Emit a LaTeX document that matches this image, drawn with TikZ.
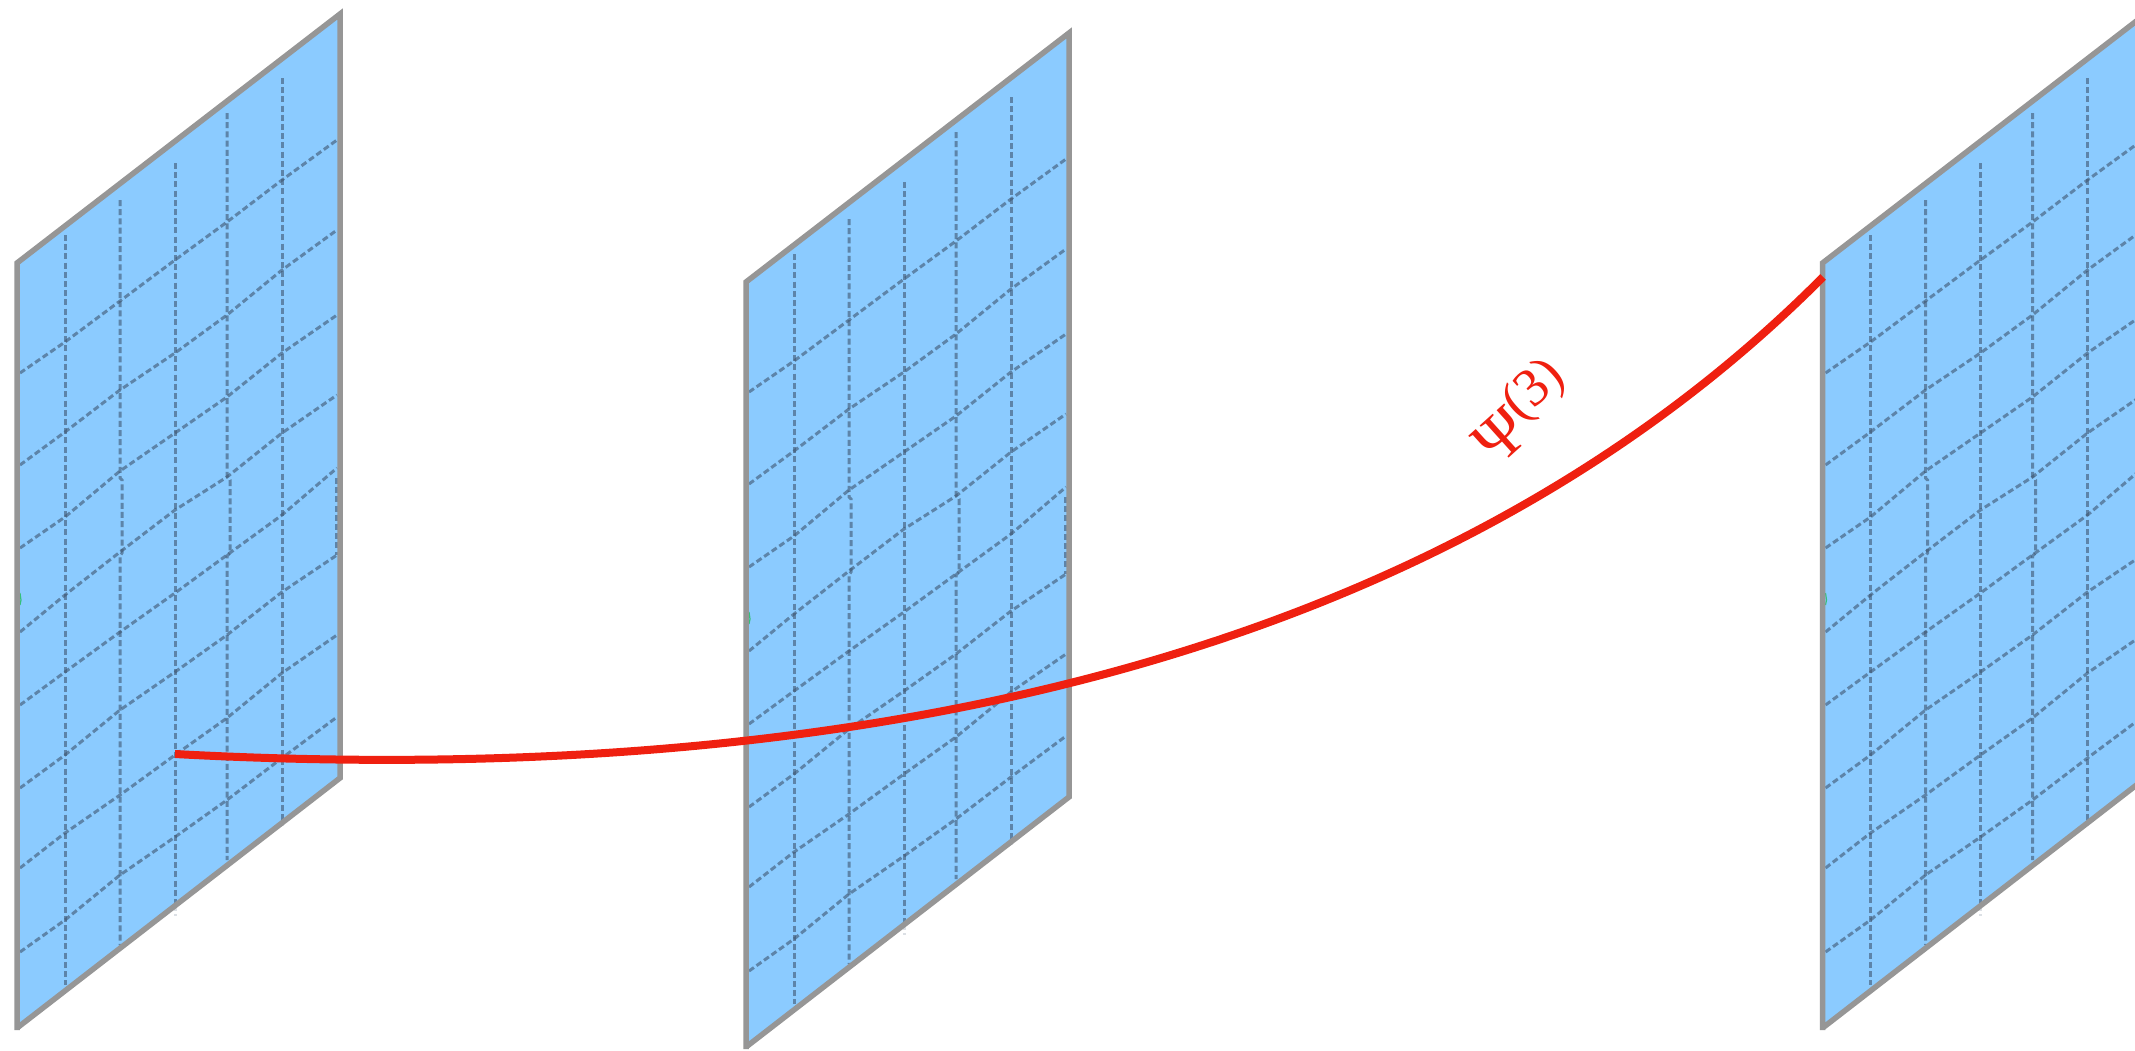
\documentclass[tikz,border=0pt]{standalone}
\usepackage{fontspec}
\newfontfamily\labelserif{Liberation Serif}
\definecolor{planefill}{HTML}{8BCBFF}
\definecolor{planeedge}{HTML}{969696}
\definecolor{gridink}{HTML}{3F5670}
\definecolor{curvered}{HTML}{EF2010}
\definecolor{tickgreen}{HTML}{35C07A}
\tikzset{
  planeface/.style={fill=planefill,draw=none},
  planeframe/.style={draw=planeedge,line width=5.5pt,line join=miter},
  gridline/.style={draw=gridink,opacity=.6,line width=3pt,dash pattern=on 6pt off 3.2pt},
  faintline/.style={draw=gridink,opacity=.18,line width=3pt,dash pattern=on 6pt off 3.2pt},
  psicurve/.style={draw=curvered,line width=8pt},
  psilabel/.style={text=curvered,rotate=42,inner sep=0pt},
}
\newcommand{\gridplane}[2]{%
\begin{scope}[shift={(#1,#2)}]
  \fill[planeface] (17,263) -- (340,14) -- (340,778) -- (17,1028) -- cycle;
  \draw[faintline] (175,905) -- (175,916);
  \draw[faintline] (282,820) -- (282,829);
  % vertical rulings
  \draw[gridline] (65,235) -- (65,985);
  \draw[gridline] (120,200) -- (120,478) -- (122,480) -- (122,553) -- (120,556) -- (120,945);
  \draw[gridline] (175,163) -- (175,905);
  \draw[gridline] (227,113) -- (227,476) -- (230,480) -- (230,553) -- (227,556) -- (227,860);
  \draw[gridline] (282,78) -- (282,822);
  \draw[gridline] (336,478) -- (336,555);
  % slanted rulings
  \draw[gridline] (20,373) -- (65,342) -- (120,301) -- (175,260) -- (227,222) -- (282,180) -- (337,140);
  \draw[gridline] (20,465) -- (65,432) -- (120,390) -- (175,353) -- (227,315) -- (282,270) -- (337,230);
  \draw[gridline] (20,548) -- (65,517) -- (120,471) -- (175,433) -- (227,397) -- (282,353) -- (337,315);
  \draw[gridline] (20,632) -- (65,595) -- (120,552) -- (175,510) -- (227,477) -- (282,433) -- (337,395);
  \draw[gridline] (20,705) -- (65,672) -- (120,632) -- (175,593) -- (227,555) -- (282,515) -- (337,468);
  \draw[gridline] (20,788) -- (65,755) -- (120,710) -- (175,672) -- (227,635) -- (282,592) -- (337,555);
  \draw[gridline] (20,868) -- (65,833) -- (120,795) -- (175,755) -- (227,718) -- (282,673) -- (337,635);
  \draw[gridline] (20,952) -- (65,920) -- (120,875) -- (175,837) -- (227,800) -- (282,758) -- (337,717);
  \draw[draw=tickgreen,line width=1.2pt] (20,593) -- (21,600) -- (20,605);
  \draw[planeframe] (17,1030) -- (17,263) -- (340,14) -- (340,778) -- (17,1028);
\end{scope}}
\begin{document}
\begin{tikzpicture}[x=1pt,y=-1pt]
  \useasboundingbox (0,0) rectangle (2135,1050);
  \fill[white] (0,0) rectangle (2135,1050);
  \gridplane{0}{0}
  \gridplane{729}{19}
  \gridplane{1805.5}{0}
  \coordinate (psistart) at (175,754);
  \coordinate (psiend) at (1823,277);
  \draw[psicurve] (psistart) .. controls (750,785) and (1400,702) .. (psiend);
  \node[psilabel] (psitext) at (1520,410) {\labelserif\fontsize{66}{66}\selectfont Ψ\raisebox{20pt}{\fontsize{54}{54}\selectfont(3)}};
\end{tikzpicture}
\end{document}
